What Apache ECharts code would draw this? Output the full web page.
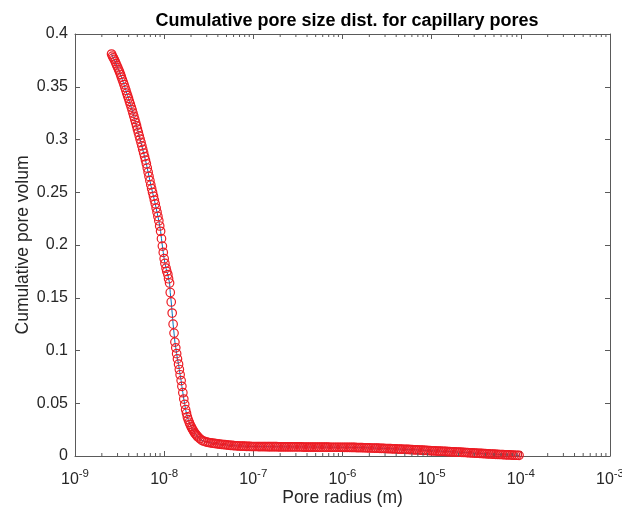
<!DOCTYPE html>
<html><head><meta charset="utf-8">
<script src="https://cdn.jsdelivr.net/npm/echarts@6/dist/echarts.min.js"></script>
<style>html,body{margin:0;padding:0;background:#fff}#c{width:622px;height:514px}</style>
</head><body><div id="c"></div>
<script>
const titleText = 'Cumulative pore size dist. for capillary pores';
const xLabel = 'Pore radius (m)';
const yLabel = 'Cumulative pore volum';

// steep part of the curve: pore radius in nm and cumulative pore volume
const radiusSteepNm = [
  2.57,2.63,2.69,2.75,2.82,2.88,2.95,3.02,3.09,3.16,
  3.24,3.31,3.39,3.47,3.55,3.63,3.72,3.80,3.89,3.98,
  4.07,4.17,4.27,4.37,4.47,4.57,4.68,4.79,4.90,5.01,
  5.13,5.25,5.37,5.50,5.62,5.75,5.89,6.03,6.17,6.31,
  6.46,6.61,6.76,6.92,7.08,7.24,7.41,7.59,7.76,7.94,
  8.13,8.32,8.51,8.71,8.91,9.12,9.33,9.55,9.77,10.0,
  10.2,10.5,10.7,11.0,11.2,11.5,11.7,12.0,12.3,12.6,
  12.9,13.2,13.5,13.8,14.1,14.5,14.8,15.1,15.5,15.8,
  16.2,16.6,17.0,17.4,17.8,18.2,18.6,19.1,19.5,20.0,
  20.4,20.9,21.4,21.9,22.4,22.9,23.4,24.0
];
const volumeSteep = [
  0.381,0.379,0.3775,0.376,0.374,0.372,0.370,0.368,0.366,0.364,
  0.3616,0.3592,0.3568,0.3544,0.352,0.3493,0.3467,0.344,0.3415,0.339,
  0.3362,0.3335,0.3307,0.328,0.325,0.322,0.319,0.316,0.313,0.3098,
  0.3067,0.3035,0.3003,0.2972,0.294,0.2906,0.2872,0.2838,0.2804,0.277,
  0.273,0.269,0.265,0.261,0.257,0.2534,0.2498,0.2462,0.2426,0.239,
  0.235,0.231,0.227,0.223,0.218,0.213,0.206,0.199,0.193,0.187,
  0.1825,0.178,0.175,0.172,0.168,0.164,0.155,0.146,0.1355,0.125,
  0.1165,0.108,0.1025,0.097,0.092,0.087,0.082,0.077,0.0715,0.066,
  0.060,0.054,0.049,0.044,0.0405,0.037,0.0345,0.032,0.030,0.028,
  0.0265,0.025,0.0235,0.022,0.021,0.020,0.019,0.018
];
// flat tail of the curve
const radiusTailNm = [
  25.1,26.3,27.5,28.8,30.2,31.6,33.1,34.7,36.3,38.0,
  39.8,41.7,43.7,45.7,47.9,50.1,52.5,55.0,57.5,60.3,
  63.1,66.1,69.2,72.4,75.9,79.4,83.2,87.1,91.2,95.5,
  100,105,110,115,120,126,132,138,145,151,
  158,166,174,182,191,200,209,219,229,240,
  251,263,275,288,302,316,331,347,363,380,
  398,417,437,457,479,501,525,550,575,603,
  631,661,692,724,759,794,832,871,912,955,
  1000,1047,1096,1148,1202,1259,1318,1380,1445,1514,
  1585,1660,1738,1820,1905,1995,2089,2188,2291,2399,
  2512,2630,2754,2884,3020,3162,3311,3467,3631,3802,
  3981,4169,4365,4571,4786,5012,5248,5495,5754,6026,
  6310,6607,6918,7244,7586,7943,8318,8710,9120,9550,
  10000,10470,10960,11480,12020,12590,13180,13800,14450,15140,
  15850,16600,17380,18200,19050,19950,20890,21880,22910,23990,
  25120,26300,27540,28840,30200,31620,33110,34670,36310,38020,
  39810,41690,43650,45710,47860,50120,52480,54950,57540,60260,
  63100,66070,69180,72440,75860,79430,83180,87100,91200,95500
];
const volumeTail = [
  0.0165,0.0150,0.0142,0.0136,0.0132,0.0128,0.0125,0.0122,0.0120,0.0117,
  0.0115,0.0113,0.0111,0.0109,0.0107,0.0105,0.0103,0.0101,0.0100,0.0098,
  0.0097,0.0096,0.0095,0.0094,0.0093,0.0093,0.0092,0.0091,0.0091,0.0090,
  0.0090,0.0090,0.0090,0.0089,0.0089,0.0089,0.0089,0.0089,0.0088,0.0088,
  0.0088,0.0088,0.0088,0.0088,0.0087,0.0087,0.0087,0.0087,0.0087,0.0087,
  0.0087,0.0086,0.0086,0.0086,0.0086,0.0086,0.0086,0.0086,0.0085,0.0085,
  0.0085,0.0085,0.0085,0.0085,0.0085,0.0085,0.0084,0.0084,0.0084,0.0084,
  0.0084,0.0084,0.0084,0.0083,0.0083,0.0083,0.0083,0.0083,0.0083,0.0083,
  0.0083,0.0082,0.0082,0.0082,0.0082,0.0081,0.0081,0.0081,0.0080,0.0080,
  0.0079,0.0079,0.0078,0.0078,0.0077,0.0077,0.0076,0.0076,0.0075,0.0074,
  0.0074,0.0073,0.0072,0.0072,0.0071,0.0070,0.0070,0.0069,0.0068,0.0068,
  0.0067,0.0066,0.0066,0.0065,0.0064,0.0063,0.0063,0.0062,0.0061,0.0060,
  0.0059,0.0059,0.0058,0.0057,0.0056,0.0055,0.0054,0.0053,0.0052,0.0051,
  0.0050,0.0049,0.0048,0.0047,0.0047,0.0046,0.0045,0.0044,0.0043,0.0042,
  0.0041,0.0040,0.0039,0.0039,0.0038,0.0037,0.0036,0.0035,0.0034,0.0033,
  0.0032,0.0031,0.0030,0.0029,0.0028,0.0027,0.0026,0.0025,0.0024,0.0023,
  0.0022,0.0021,0.0020,0.0019,0.0018,0.0017,0.0016,0.0015,0.0014,0.0014,
  0.0013,0.0012,0.0011,0.0010,0.0010,0.0009,0.0008,0.0007,0.0007,0.0006
];
const minorTickMultipliers = [2,3,4,5,6,7,8,9];
const minorTickDecades = [1e-9,1e-8,1e-7,1e-6,1e-5,1e-4];

const NM = 1e-9;
const radius = radiusSteepNm.concat(radiusTailNm).map(r => r * NM);
const volume = volumeSteep.concat(volumeTail);
const points = radius.map((r, i) => [r, volume[i]]);
const minorTicks = [];
minorTickDecades.forEach(d => minorTickMultipliers.forEach(m => minorTicks.push([m * d, 0])));

const FONT = '"Liberation Sans", Arial, Helvetica, sans-serif';
const TXT = '#262626';
const AXC = '#5a5a5a';
const axisLine = {show: true, onZero: false, lineStyle: {color: AXC, width: 1}};
const axisTick = {show: true, inside: true, length: 5, lineStyle: {color: AXC, width: 1}};

const chart = echarts.init(document.getElementById('c'), null, {renderer: 'canvas'});
chart.setOption({
  animation: false,
  backgroundColor: '#fff',
  title: {
    text: titleText, left: 342, top: 7, textAlign: 'center',
    textStyle: {fontFamily: FONT, fontSize: 18, fontWeight: 'bold', color: '#000'}
  },
  grid: {left: 75, right: 12, top: 34, bottom: 58, containLabel: false, outerBoundsMode: 'none'},
  xAxis: [{
    type: 'log', logBase: 10, min: 1e-9, max: 1e-3, position: 'bottom',
    name: xLabel, nameLocation: 'middle', nameGap: 33, nameMoveOverlap: false,
    nameTextStyle: {fontFamily: FONT, fontSize: 17.5, color: TXT},
    axisLine: axisLine, axisTick: axisTick, splitLine: {show: false}, minorTick: {show: false},
    axisLabel: {
      margin: 12, showMinLabel: true, showMaxLabel: true, hideOverlap: false,
      formatter: v => '{b|10}{s|' + Math.round(Math.log10(v)) + '}',
      rich: {
        b: {fontFamily: FONT, fontSize: 16, color: TXT, verticalAlign: 'bottom'},
        s: {fontFamily: FONT, fontSize: 11.5, color: TXT, verticalAlign: 'bottom', padding: [0, 0, 8, 0]}
      }
    }
  }, {
    type: 'log', logBase: 10, min: 1e-9, max: 1e-3, position: 'top',
    axisLine: axisLine, axisTick: axisTick, axisLabel: {show: false}, splitLine: {show: false}
  }],
  yAxis: [{
    type: 'value', min: 0, max: 0.4, interval: 0.05,
    name: yLabel, nameLocation: 'middle', nameGap: 43, nameMoveOverlap: false,
    nameTextStyle: {fontFamily: FONT, fontSize: 17.5, color: TXT},
    axisLine: axisLine, axisTick: axisTick, splitLine: {show: false},
    axisLabel: {margin: 7, fontFamily: FONT, fontSize: 16, color: TXT}
  }, {
    type: 'value', min: 0, max: 0.4, interval: 0.05, position: 'right',
    axisLine: axisLine, axisTick: axisTick, axisLabel: {show: false}, splitLine: {show: false}
  }],
  series: [{
    type: 'custom', xAxisIndex: 0, yAxisIndex: 0, silent: true, clip: false, z: 5,
    data: minorTicks,
    renderItem: (params, api) => {
      const x = api.coord([api.value(0), 0])[0];
      const cs = params.coordSys;
      const b = cs.y + cs.height, t = cs.y;
      return {type: 'group', children: [
        {type: 'line', shape: {x1: x, y1: b, x2: x, y2: b - 3}, style: {stroke: AXC, lineWidth: 1}},
        {type: 'line', shape: {x1: x, y1: t, x2: x, y2: t + 3}, style: {stroke: AXC, lineWidth: 1}}
      ]};
    }
  }, {
    type: 'line', data: points, showSymbol: false, symbol: 'none', silent: true, z: 2,
    lineStyle: {color: '#0072BD', width: 1}
  }, {
    type: 'scatter', data: points, symbol: 'circle', symbolSize: 8.5, silent: true, z: 3,
    itemStyle: {color: 'rgba(0,0,0,0)', borderColor: '#ec1c24', borderWidth: 1.2, opacity: 1}
  }]
});
</script></body></html>
